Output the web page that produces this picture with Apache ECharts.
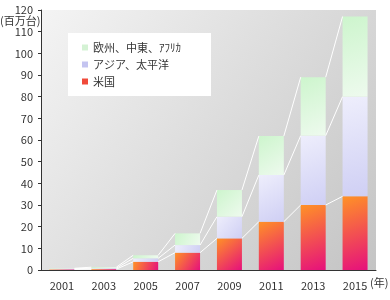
<!DOCTYPE html>
<html lang="ja">
<head>
<meta charset="UTF-8">
<script src="https://cdn.jsdelivr.net/npm/echarts@6/dist/echarts.min.js"></script>
<style>
  html, body { margin: 0; padding: 0; background: #fff; }
  #main { width: 390px; height: 300px; }
</style>
</head>
<body>
<div id="main"></div>
<script>
// 年
var years = ['2001', '2003', '2005', '2007', '2009', '2011', '2013', '2015'];
// 百万台
var usa = [0.3, 0.4, 3.8, 8, 14.6, 22.3, 30, 34];
var asia = [0.3, 0.4, 1.6, 3.5, 10, 21.5, 32, 46];
var europe = [0.2, 0.5, 1.4, 5.4, 12.3, 18, 27, 37];
var yTicks = [0, 10, 20, 30, 40, 50, 60, 70, 80, 90, 100, 110, 120];

var BAR_W = 25;
var FONT = '"Noto Sans CJK JP", "DejaVu Sans", sans-serif';

// cumulative tops, used for the connecting lines between bars
var lvl1 = usa.slice();
var lvl2 = usa.map(function (v, i) { return v + asia[i]; });
var lvl3 = lvl2.map(function (v, i) { return v + europe[i]; });
var linkData = [];
for (var i = 0; i < years.length - 1; i++) {
  linkData.push([i, lvl1[i], lvl1[i + 1], lvl2[i], lvl2[i + 1], lvl3[i], lvl3[i + 1]]);
}

function grad(c1, c2) {
  return new echarts.graphic.LinearGradient(0, 0, 1, 1, [
    { offset: 0, color: c1 }, { offset: 1, color: c2 }
  ]);
}

var chart = echarts.init(document.getElementById('main'));
chart.setOption({
  animation: false,
  textStyle: { fontFamily: FONT },
  grid: {
    left: 41, right: 14, top: 10, bottom: 30,
    show: true, borderWidth: 0,
    backgroundColor: new echarts.graphic.LinearGradient(0, 0, 1, 1, [
      { offset: 0, color: '#f4f4f4' }, { offset: 1, color: '#c4c4c4' }
    ])
  },
  legend: {
    orient: 'vertical', left: 68, top: 33,
    backgroundColor: '#ffffff',
    padding: [7, 30, 7, 14],
    icon: 'rect',
    itemWidth: 6, itemHeight: 6, itemGap: 2,
    textStyle: { fontSize: 11, color: '#333', fontFamily: FONT, lineHeight: 15 },
    data: [
      { name: '欧州、中東、ｱﾌﾘｶ', itemStyle: { color: '#d4f2d4' } },
      { name: 'アジア、太平洋', itemStyle: { color: '#c4c4f0' } },
      { name: '米国', itemStyle: { color: '#f04a3a' } }
    ]
  },
  xAxis: {
    type: 'category', data: years,
    axisLine: { lineStyle: { color: '#333', width: 1 } },
    axisTick: { inside: true, length: 4, lineStyle: { color: '#333' } },
    axisLabel: { color: '#333', fontSize: 11, margin: 10 }
  },
  yAxis: {
    type: 'value', min: 0, max: 120, interval: 10,
    splitLine: { show: false },
    axisLine: { show: true, lineStyle: { color: '#333', width: 1 } },
    axisTick: { show: true, length: 3, lineStyle: { color: '#333' } },
    axisLabel: { color: '#333', fontSize: 11, margin: 8,
      formatter: function (v) { return yTicks.indexOf(v) >= 0 ? String(v) : ''; } }
  },
  graphic: [
    { type: 'text', left: 0, top: 15, style: { text: '(百万台)', fill: '#333', font: '11px ' + FONT } },
    { type: 'text', left: 370, top: 277, style: { text: '(年)', fill: '#333', font: '11px ' + FONT } }
  ],
  series: [
    { name: '米国', type: 'bar', stack: 'a', barWidth: BAR_W, data: usa,
      itemStyle: { color: grad('#ff9226', '#e6107c') } },
    { name: 'アジア、太平洋', type: 'bar', stack: 'a', barWidth: BAR_W, data: asia,
      itemStyle: { color: grad('#eeeefc', '#cfcff4') } },
    { name: '欧州、中東、ｱﾌﾘｶ', type: 'bar', stack: 'a', barWidth: BAR_W, data: europe,
      itemStyle: { color: grad('#cdf5cd', '#eefaee') } },
    { name: 'links', type: 'custom', z: 5, data: linkData, silent: true,
      renderItem: function (params, api) {
        var i = api.value(0);
        var half = BAR_W / 2;
        var kids = [];
        for (var k = 0; k < 3; k++) {
          var a = api.coord([i, api.value(1 + k * 2)]);
          var b = api.coord([i + 1, api.value(2 + k * 2)]);
          kids.push({ type: 'line',
            shape: { x1: a[0] + half, y1: a[1], x2: b[0] - half, y2: b[1] },
            style: { stroke: '#ffffff', lineWidth: 1 } });
        }
        return { type: 'group', children: kids };
      } }
  ]
});
</script>
</body>
</html>
